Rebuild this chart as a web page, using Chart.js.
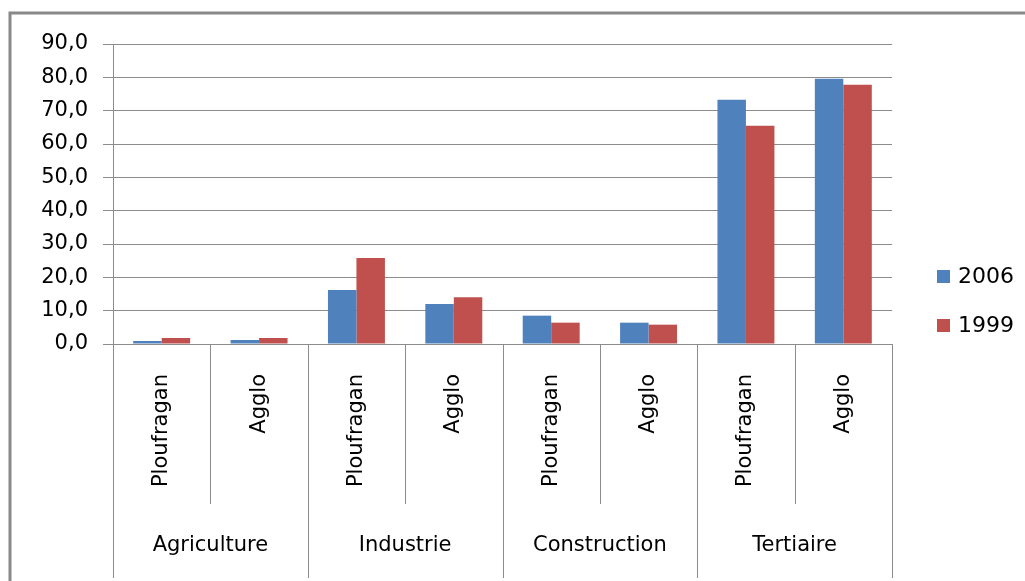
<!doctype html>
<html>
<head>
<meta charset="UTF-8">
<title>Emplois par secteur</title>
<script src="https://cdn.jsdelivr.net/npm/chart.js"></script>
<style>
  html, body { margin: 0; padding: 0; background: #fff; }
  canvas { display: block; }
</style>
</head>
<body>
<canvas id="chart" width="1025" height="581"></canvas>
<script>
const places = ['Ploufragan', 'Agglo', 'Ploufragan', 'Agglo', 'Ploufragan', 'Agglo', 'Ploufragan', 'Agglo'];
const sectors = ['Agriculture', 'Industrie', 'Construction', 'Tertiaire'];
const values2006 = [0.9, 1.2, 16.2, 12.0, 8.5, 6.4, 73.3, 79.6];
const values1999 = [1.8, 1.8, 25.8, 14.0, 6.4, 5.8, 65.5, 77.8];
const seriesNames = ['2006', '1999'];
const seriesColors = ['#4F81BD', '#C0504D'];

const FONT = '"DejaVu Sans", sans-serif';
const GRID = '#8c8c8c';

// frame, category separators, sector names and legend
const extras = {
  id: 'extras',
  afterDraw(chart) {
    const ctx = chart.ctx;
    const x = chart.scales.x;
    const area = chart.chartArea;
    ctx.save();

    ctx.strokeStyle = '#888';
    ctx.lineWidth = 3;
    ctx.strokeRect(10, 13, 1030, 590);

    ctx.strokeStyle = GRID;
    ctx.lineWidth = 1;
    for (let i = 0; i <= places.length; i++) {
      const px = Math.round(x.getPixelForValue(i - 0.5)) + 0.5;
      const bottom = i % 2 === 0 ? 578 : 504;
      ctx.beginPath();
      ctx.moveTo(px, area.bottom);
      ctx.lineTo(px, bottom);
      ctx.stroke();
    }

    ctx.fillStyle = '#000';
    ctx.font = '21px ' + FONT;
    ctx.textAlign = 'center';
    ctx.textBaseline = 'middle';
    sectors.forEach((s, g) => {
      ctx.fillText(s, x.getPixelForValue(2 * g + 0.5), 546);
    });

    ctx.textAlign = 'left';
    ctx.font = '22px ' + FONT;
    seriesNames.forEach((name, i) => {
      const cy = 277 + i * 49;
      ctx.fillStyle = seriesColors[i];
      ctx.fillRect(937, cy - 7, 13, 13);
      ctx.fillStyle = '#000';
      ctx.fillText(name, 958, cy);
    });
    ctx.restore();
  }
};

new Chart('chart', {
  type: 'bar',
  data: {
    labels: places,
    datasets: [
      {
        label: seriesNames[0],
        data: values2006,
        backgroundColor: seriesColors[0],
        categoryPercentage: 0.585,
        barPercentage: 1,
      },
      {
        label: seriesNames[1],
        data: values1999,
        backgroundColor: seriesColors[1],
        categoryPercentage: 0.585,
        barPercentage: 1,
      },
    ],
  },
  options: {
    responsive: false,
    animation: false,
    layout: { padding: { top: 44, right: 133, left: 0, bottom: 0 } },
    plugins: { legend: { display: false }, tooltip: { enabled: false } },
    scales: {
      x: {
        grid: { display: false },
        border: { display: false },
        ticks: {
          minRotation: 90,
          maxRotation: 90,
          padding: 22,
          color: '#000',
          font: { family: FONT, size: 21 },
        },
        afterFit(scale) { scale.height = 237; },
      },
      y: {
        min: 0,
        max: 90,
        grid: { color: GRID, tickLength: 10 },
        border: { color: GRID },
        ticks: {
          stepSize: 10,
          padding: 15,
          color: '#000',
          font: { family: FONT, size: 21 },
          callback: (v) => v.toFixed(1).replace('.', ','),
        },
        afterFit(scale) { scale.width = 113; },
      },
    },
  },
  plugins: [extras],
});
</script>
</body>
</html>
